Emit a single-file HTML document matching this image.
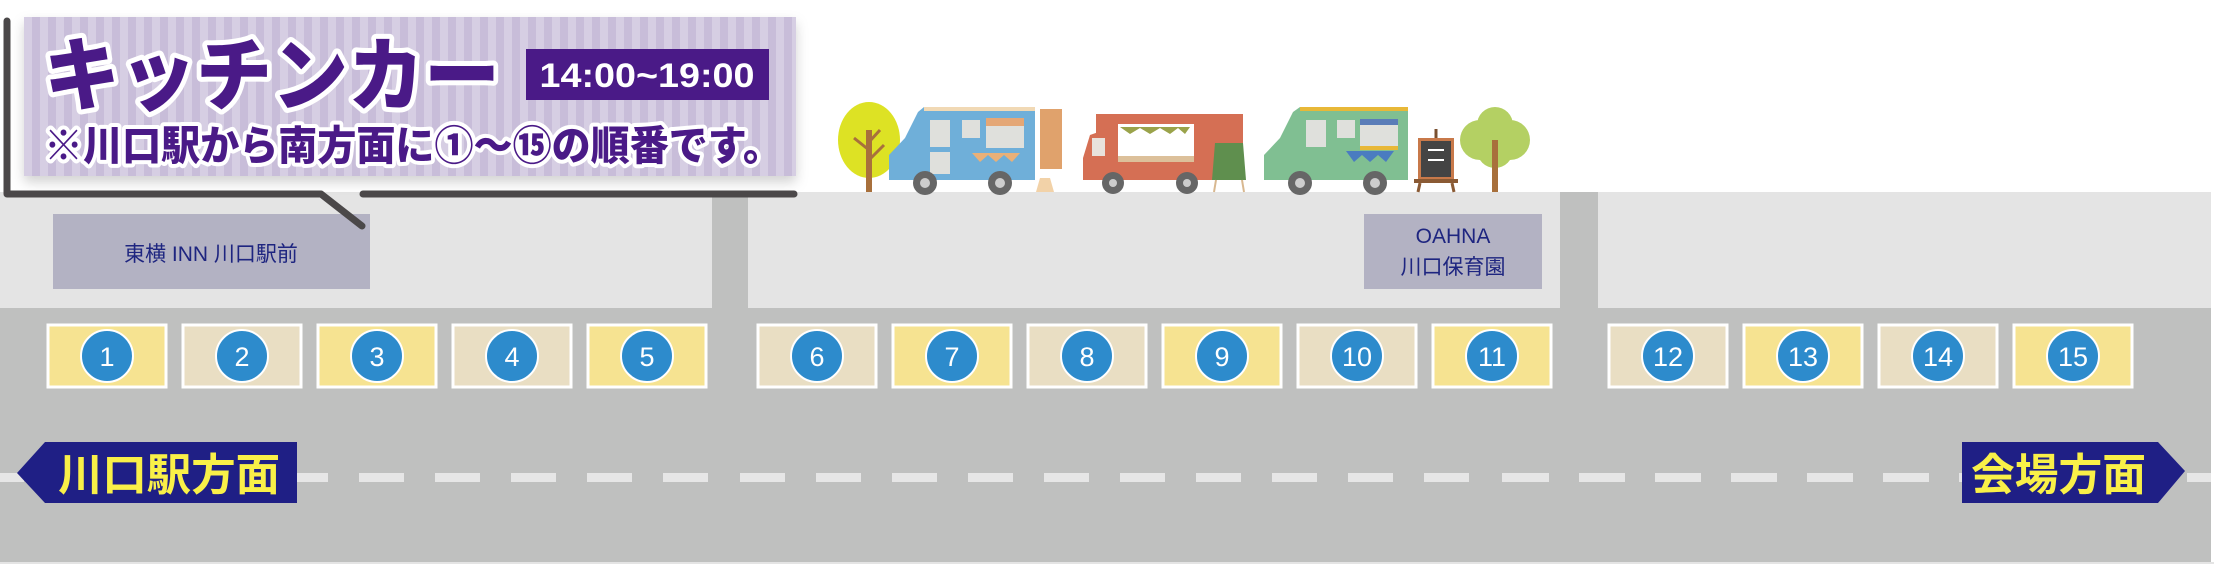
<!DOCTYPE html>
<html><head><meta charset="utf-8"><style>
html,body{margin:0;padding:0;background:#fff;}
svg{display:block;}
text{font-family:"Liberation Sans","Noto Sans CJK JP",sans-serif;}
</style></head><body>
<svg width="2214" height="564" viewBox="0 0 2214 564" xmlns="http://www.w3.org/2000/svg">
<defs>
<pattern id="st" width="16" height="16" patternUnits="userSpaceOnUse">
<rect width="16" height="16" fill="#d6cee3"/><rect width="8" height="16" fill="#c8bdd9"/>
</pattern>
<filter id="sh" x="-5%" y="-10%" width="110%" height="130%"><feDropShadow dx="0" dy="6" stdDeviation="6" flood-color="#000" flood-opacity="0.18"/></filter>
</defs>
<rect width="2214" height="564" fill="#fff"/>
<!-- sidewalk -->
<rect x="0" y="192" width="2214" height="117" fill="#e4e4e4"/>
<!-- road -->
<rect x="0" y="308" width="2214" height="254" fill="#bfc0bf"/>
<rect x="712" y="192" width="36" height="117" fill="#bfc0bf"/>
<rect x="1560" y="192" width="38" height="117" fill="#bfc0bf"/>
<rect x="2211" y="192" width="3" height="372" fill="#fff"/>
<rect x="0" y="562" width="2214" height="2" fill="#e4e4e4"/>
<!-- dashes -->
<g fill="#e6e6e6">
<rect x="-21" y="473" width="45" height="9"/><rect x="55" y="473" width="45" height="9"/><rect x="131" y="473" width="45" height="9"/><rect x="207" y="473" width="45" height="9"/><rect x="283" y="473" width="45" height="9"/><rect x="359" y="473" width="45" height="9"/><rect x="435" y="473" width="45" height="9"/><rect x="511" y="473" width="45" height="9"/><rect x="587" y="473" width="45" height="9"/><rect x="663" y="473" width="45" height="9"/><rect x="740" y="473" width="45" height="9"/><rect x="816" y="473" width="45" height="9"/><rect x="892" y="473" width="45" height="9"/><rect x="968" y="473" width="45" height="9"/><rect x="1044" y="473" width="45" height="9"/><rect x="1120" y="473" width="45" height="9"/><rect x="1196" y="473" width="45" height="9"/><rect x="1272" y="473" width="45" height="9"/><rect x="1348" y="473" width="45" height="9"/><rect x="1424" y="473" width="45" height="9"/><rect x="1502" y="473" width="47" height="9"/><rect x="1579" y="473" width="46" height="9"/><rect x="1655" y="473" width="46" height="9"/><rect x="1731" y="473" width="46" height="9"/><rect x="1807" y="473" width="46" height="9"/><rect x="1883" y="473" width="46" height="9"/><rect x="1959" y="473" width="46" height="9"/><rect x="2035" y="473" width="46" height="9"/><rect x="2111" y="473" width="46" height="9"/><rect x="2187" y="473" width="24" height="9"/>
</g>
<!-- building labels -->
<rect x="53" y="214" width="317" height="75" fill="#b3b2c3"/>
<text x="211" y="261" font-size="21" fill="#1e2580" text-anchor="middle">東横 INN 川口駅前</text>
<rect x="1364" y="214" width="178" height="75" fill="#b3b2c3"/>
<text x="1453" y="243" font-size="21" fill="#1e2580" text-anchor="middle">OAHNA</text>
<text x="1453" y="274" font-size="21" fill="#1e2580" text-anchor="middle">川口保育園</text>
<!-- slots -->
<g stroke="#fff" stroke-width="3">
<rect x="48" y="325" width="118" height="62" fill="#f6e391"/>
<rect x="183" y="325" width="118" height="62" fill="#e9dec3"/>
<rect x="318" y="325" width="118" height="62" fill="#f6e391"/>
<rect x="453" y="325" width="118" height="62" fill="#e9dec3"/>
<rect x="588" y="325" width="118" height="62" fill="#f6e391"/>
<rect x="758" y="325" width="118" height="62" fill="#e9dec3"/>
<rect x="893" y="325" width="118" height="62" fill="#f6e391"/>
<rect x="1028" y="325" width="118" height="62" fill="#e9dec3"/>
<rect x="1163" y="325" width="118" height="62" fill="#f6e391"/>
<rect x="1298" y="325" width="118" height="62" fill="#e9dec3"/>
<rect x="1433" y="325" width="118" height="62" fill="#f6e391"/>
<rect x="1609" y="325" width="118" height="62" fill="#e9dec3"/>
<rect x="1744" y="325" width="118" height="62" fill="#f6e391"/>
<rect x="1879" y="325" width="118" height="62" fill="#e9dec3"/>
<rect x="2014" y="325" width="118" height="62" fill="#f6e391"/>
</g>
<g fill="#2d8bcc" stroke="#fff" stroke-width="2">
<circle cx="107" cy="356" r="26"/><circle cx="242" cy="356" r="26"/><circle cx="377" cy="356" r="26"/><circle cx="512" cy="356" r="26"/><circle cx="647" cy="356" r="26"/><circle cx="817" cy="356" r="26"/><circle cx="952" cy="356" r="26"/><circle cx="1087" cy="356" r="26"/><circle cx="1222" cy="356" r="26"/><circle cx="1357" cy="356" r="26"/><circle cx="1492" cy="356" r="26"/><circle cx="1668" cy="356" r="26"/><circle cx="1803" cy="356" r="26"/><circle cx="1938" cy="356" r="26"/><circle cx="2073" cy="356" r="26"/>
</g>
<g fill="#fff" font-size="27" text-anchor="middle">
<text x="107" y="366">1</text><text x="242" y="366">2</text><text x="377" y="366">3</text><text x="512" y="366">4</text><text x="647" y="366">5</text><text x="817" y="366">6</text><text x="952" y="366">7</text><text x="1087" y="366">8</text><text x="1222" y="366">9</text><text x="1357" y="366">10</text><text x="1492" y="366">11</text><text x="1668" y="366">12</text><text x="1803" y="366">13</text><text x="1938" y="366">14</text><text x="2073" y="366">15</text>
</g>
<!-- direction signs -->
<polygon points="17,473 45,442 297,442 297,503 45,503" fill="#1f1f85"/>
<text x="58" y="490" font-size="44" font-weight="bold" fill="#f9f048" textLength="222" lengthAdjust="spacingAndGlyphs" font-family="Noto Sans CJK JP, sans-serif">川口駅方面</text>
<polygon points="1962,442 2158,442 2185,471 2158,503 1962,503" fill="#1f1f85"/>
<text x="1971" y="490" font-size="44" font-weight="bold" fill="#f9f048" textLength="175" lengthAdjust="spacingAndGlyphs" font-family="Noto Sans CJK JP, sans-serif">会場方面</text>
<!-- trucks and trees -->
<g>
<ellipse cx="869" cy="140" rx="31" ry="38" fill="#dde224"/>
<rect x="866" y="130" width="6" height="62" fill="#a8703c"/>
<path d="M869 150 L854 138 M869 160 L884 145 M869 142 L880 130" stroke="#a8703c" stroke-width="3" fill="none"/>
<!-- blue truck -->
<path d="M924 107 L1035 107 L1035 180 L889 180 L889 155 L905 138 L918 112 Z" fill="#6fafd9"/>
<rect x="924" y="107" width="111" height="4" fill="#f1d9b5"/>
<rect x="930" y="120" width="20" height="27" fill="#dfe0dc"/><rect x="962" y="120" width="18" height="18" fill="#dfe0dc"/>
<rect x="986" y="118" width="38" height="30" fill="#dfe0dc"/><rect x="986" y="118" width="38" height="8" fill="#e4a776"/>
<rect x="930" y="152" width="20" height="22" fill="#dfe0dc"/>
<path d="M972 153 L1020 153 L1012 162 L1004 155 L996 162 L988 155 L980 162 Z" fill="#e9b078"/>
<circle cx="925" cy="183" r="12" fill="#666"/><circle cx="925" cy="183" r="5" fill="#ccc"/>
<circle cx="1000" cy="183" r="12" fill="#666"/><circle cx="1000" cy="183" r="5" fill="#ccc"/>
<rect x="1040" y="109" width="22" height="60" fill="#e0a26c"/>
<polygon points="1036,192 1040,178 1050,178 1054,192" fill="#f2d2a8"/>
<!-- red truck -->
<rect x="1096" y="114" width="147" height="66" fill="#d56f54"/>
<path d="M1083 180 L1083 158 L1090 135 L1110 128 L1110 180 Z" fill="#d56f54"/>
<rect x="1118" y="124" width="76" height="38" fill="#fff"/><rect x="1118" y="156" width="76" height="6" fill="#dcc09a"/>
<rect x="1092" y="138" width="13" height="18" fill="#e8e2dc"/>
<line x1="1194" y1="122" x2="1243" y2="122" stroke="#d56f54" stroke-width="3"/>
<path d="M1120 127 L1190 127 L1185 134 L1178 128 L1170 134 L1160 128 L1150 134 L1140 128 L1130 134 Z" fill="#9aa34a"/>
<circle cx="1113" cy="183" r="11" fill="#666"/><circle cx="1113" cy="183" r="4" fill="#ccc"/>
<circle cx="1187" cy="183" r="11" fill="#666"/><circle cx="1187" cy="183" r="4" fill="#ccc"/>
<polygon points="1215,143 1243,143 1246,180 1212,180" fill="#5f8f4e"/>
<line x1="1216" y1="180" x2="1214" y2="192" stroke="#d8b890" stroke-width="2"/><line x1="1242" y1="180" x2="1244" y2="192" stroke="#d8b890" stroke-width="2"/>
<!-- green truck -->
<path d="M1300 107 L1408 107 L1408 180 L1264 180 L1264 155 L1280 138 L1293 112 Z" fill="#80bf92"/>
<rect x="1300" y="107" width="108" height="4" fill="#e8b838"/>
<rect x="1306" y="120" width="20" height="27" fill="#dfe0dc"/><rect x="1337" y="120" width="18" height="18" fill="#dfe0dc"/>
<rect x="1360" y="119" width="38" height="30" fill="#dfe0dc"/><rect x="1360" y="119" width="38" height="6" fill="#5a7db8"/><rect x="1360" y="146" width="38" height="4" fill="#e8b838"/>
<path d="M1346 151 L1394 151 L1386 162 L1378 155 L1370 162 L1362 155 L1354 162 Z" fill="#4a7cc0"/>
<circle cx="1300" cy="183" r="12" fill="#666"/><circle cx="1300" cy="183" r="5" fill="#ccc"/>
<circle cx="1375" cy="183" r="12" fill="#666"/><circle cx="1375" cy="183" r="5" fill="#ccc"/>
<!-- easel -->
<rect x="1418" y="138" width="36" height="42" fill="#c8794a"/><rect x="1421" y="141" width="30" height="36" fill="#444"/>
<line x1="1436" y1="129" x2="1436" y2="138" stroke="#7a5030" stroke-width="3"/>
<rect x="1414" y="179" width="44" height="4" fill="#8a5a34"/>
<line x1="1420" y1="183" x2="1418" y2="192" stroke="#8a5a34" stroke-width="3"/><line x1="1452" y1="183" x2="1454" y2="192" stroke="#8a5a34" stroke-width="3"/>
<line x1="1428" y1="150" x2="1444" y2="150" stroke="#fff" stroke-width="2"/><line x1="1428" y1="160" x2="1444" y2="160" stroke="#fff" stroke-width="2"/>
<!-- tree 2 -->
<circle cx="1480" cy="140" r="20" fill="#b4d063"/><circle cx="1510" cy="140" r="20" fill="#b4d063"/><circle cx="1495" cy="125" r="18" fill="#b4d063"/><circle cx="1495" cy="150" r="18" fill="#b4d063"/>
<rect x="1492" y="140" width="6" height="52" fill="#a8703c"/>
</g>
<!-- banner -->
<rect x="24" y="17" width="772" height="159" fill="url(#st)" filter="url(#sh)"/>
<text x="44" y="104" font-size="80" font-weight="900" fill="#4a1a87" stroke="#fff" stroke-width="10" stroke-linejoin="round" paint-order="stroke" textLength="456" lengthAdjust="spacingAndGlyphs" font-family="Noto Sans CJK JP, sans-serif">キッチンカー</text>
<rect x="526" y="49" width="243" height="51" fill="#4a1a87"/>
<text x="647" y="87" font-size="34" font-weight="bold" fill="#fff" text-anchor="middle" textLength="215" lengthAdjust="spacingAndGlyphs" font-family="Noto Sans CJK JP, sans-serif">14:00~19:00</text>
<text x="44" y="160" font-size="41" font-weight="900" fill="#4a1a87" stroke="#fff" stroke-width="8" stroke-linejoin="round" paint-order="stroke" textLength="738" lengthAdjust="spacingAndGlyphs" font-family="Noto Sans CJK JP, sans-serif">※川口駅から南方面に①～⑮の順番です。</text>
<!-- callout line -->
<path d="M7 21 L7 194 L321 194 L362 226" stroke="#4b4849" stroke-width="7" fill="none" stroke-linecap="round" stroke-linejoin="round"/>
<line x1="363" y1="194" x2="794" y2="194" stroke="#4b4849" stroke-width="7" stroke-linecap="round"/>
</svg>
</body></html>
